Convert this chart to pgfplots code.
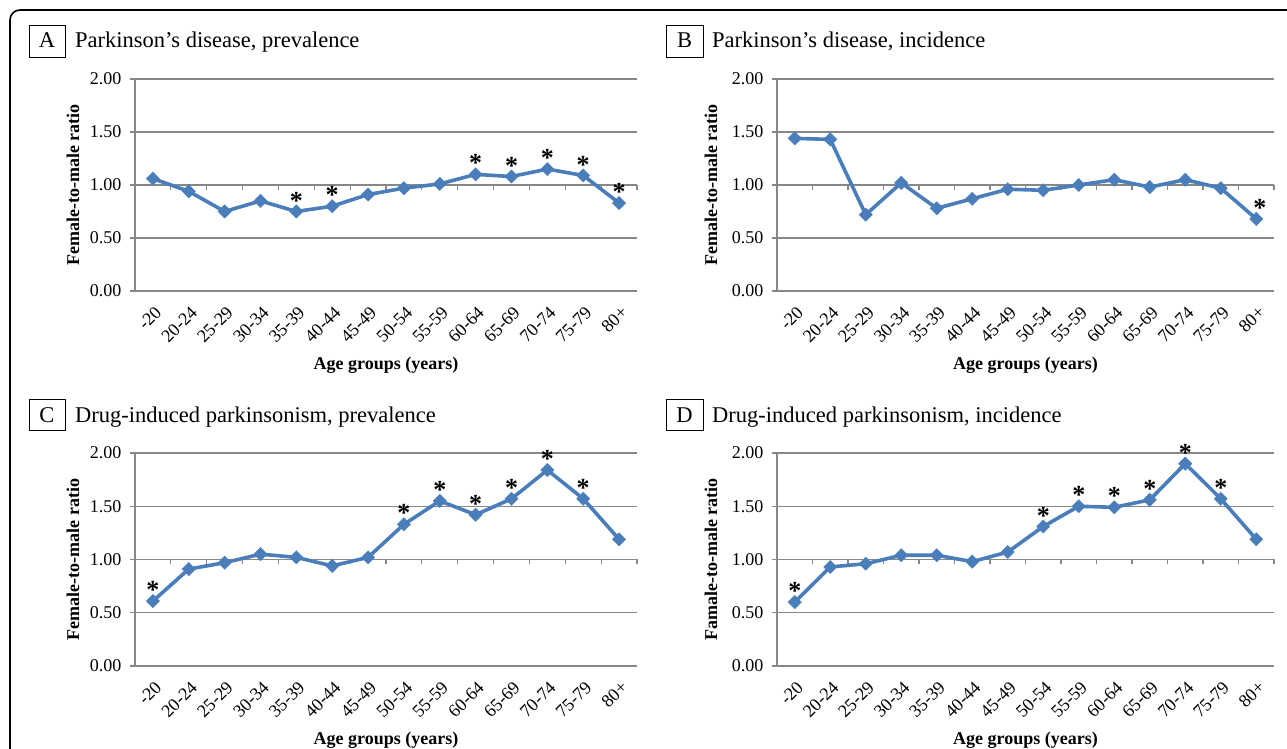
\documentclass[border=0pt]{standalone}
\usepackage{fontspec}
\setmainfont{Liberation Serif}
\usepackage{pgfplots}
\pgfplotsset{compat=1.18}
\definecolor{ser}{HTML}{4A7EBB}
\definecolor{grd}{HTML}{878787}

\pgfplotsset{
  panel/.style={
    scale only axis, anchor=south west, clip=false,
    xmin=-0.5, xmax=13.5, ymin=0, ymax=2,
    xtick={0,...,13},
    xticklabels={-20,20-24,25-29,30-34,35-39,40-44,45-49,50-54,55-59,60-64,65-69,70-74,75-79,80+},
    ytick={0,0.5,1,1.5,2},
    /pgf/number format/assume math mode=true,
    yticklabel style={/pgf/number format/fixed, /pgf/number format/fixed zerofill, /pgf/number format/precision=2,
      font=\fontsize{18}{18}\selectfont, xshift=-5pt},
    xticklabel style={xshift=1pt, yshift=-9pt, rotate=45, anchor=north east, inner sep=0pt,
      font=\fontsize{18}{18}\selectfont},
    axis lines*=left,
    axis line style={draw=grd, line width=1.2pt, -},
    ymajorgrids, major grid style={draw=grd, line width=1.2pt},
    tick align=outside, major tick length=5pt,
    ytick style={draw=grd, line width=1.2pt},
    xtick style={draw=none},
    label style={font=\bfseries\fontsize{18}{18}\selectfont},
    xlabel={Age groups (years)},
    xlabel style={at={(axis description cs:0.5,0)}, anchor=center, yshift=-74pt},
  },
  ser/.style={color=ser, line width=3.6pt, mark=square*, mark size=4.7pt,
    mark options={solid, rotate=45, line width=0.4pt, fill=ser, draw=ser}},
  star/.style={only marks, mark=none, nodes near coords={*},
    nodes near coords style={font=\bfseries\fontsize{26}{26}\selectfont, anchor=center, yshift=11pt, inner sep=0pt, text=black}},
}
\newcommand\catticks{%
  \pgfplotsinvokeforeach{0.5,1.5,...,13.5}{\draw[grd, line width=1.2pt] (axis cs:##1,1) -- ([yshift=-5pt]axis cs:##1,1);}%
}

\begin{document}
\begin{tikzpicture}
\useasboundingbox (0,0) rectangle (1287pt,749pt);
\begin{scope}
  \clip (0,0) rectangle (1287pt,749pt);
  \draw[line width=1.6pt, rounded corners=10pt] (10pt,739pt) rectangle (1330pt,-40pt);
\end{scope}

% ---------- titles
\tikzset{ttl/.style={font=\fontsize{22.5}{22.5}\selectfont, inner sep=0pt}}
\draw[line width=0.8pt] (29pt,692pt) rectangle (65pt,724pt);
\node[ttl, anchor=base] at (47pt,701pt) {A};
\node[ttl, anchor=base west] at (75pt,701pt) {Parkinson’s disease, prevalence};
\draw[line width=0.8pt] (666pt,692pt) rectangle (703pt,724pt);
\node[ttl, anchor=base] at (684.5pt,701pt) {B};
\node[ttl, anchor=base west] at (712pt,701pt) {Parkinson’s disease, incidence};
\draw[line width=0.8pt] (29pt,319pt) rectangle (65pt,350pt);
\node[ttl, anchor=base] at (47pt,326pt) {C};
\node[ttl, anchor=base west] at (75pt,326pt) {Drug-induced parkinsonism, prevalence};
\draw[line width=0.8pt] (666pt,319pt) rectangle (703pt,350pt);
\node[ttl, anchor=base] at (684.5pt,326pt) {D};
\node[ttl, anchor=base west] at (712pt,326pt) {Drug-induced parkinsonism, incidence};

% ---------- A
\begin{axis}[panel, at={(135pt,458pt)}, width=502pt, height=212pt,
  ylabel={Female-to-male ratio},
  ylabel style={at={(axis description cs:-0.1235,0.5)}, anchor=center}]
\catticks
\addplot[ser] coordinates {(0,1.06)(1,0.94)(2,0.75)(3,0.85)(4,0.75)(5,0.80)(6,0.91)(7,0.97)(8,1.01)(9,1.10)(10,1.08)(11,1.15)(12,1.09)(13,0.83)};
\addplot[star] coordinates {(4,0.75)(5,0.80)(9,1.10)(10,1.08)(11,1.15)(12,1.09)(13,0.83)};
\end{axis}

% ---------- B
\begin{axis}[panel, at={(777pt,458pt)}, width=497pt, height=212pt,
  ylabel={Female-to-male ratio},
  ylabel style={at={(axis description cs:-0.133,0.5)}, anchor=center}]
\catticks
\addplot[ser] coordinates {(0,1.44)(1,1.43)(2,0.72)(3,1.02)(4,0.78)(5,0.87)(6,0.96)(7,0.95)(8,1.00)(9,1.05)(10,0.98)(11,1.05)(12,0.97)(13,0.68)};
\addplot[star] coordinates {(13.1,0.68)};
\end{axis}

% ---------- C
\begin{axis}[panel, at={(135pt,83pt)}, width=502pt, height=213pt,
  ylabel={Female-to-male ratio},
  ylabel style={at={(axis description cs:-0.1235,0.5)}, anchor=center}]
\catticks
\addplot[ser] coordinates {(0,0.61)(1,0.91)(2,0.97)(3,1.05)(4,1.02)(5,0.94)(6,1.02)(7,1.33)(8,1.55)(9,1.42)(10,1.57)(11,1.84)(12,1.57)(13,1.19)};
\addplot[star] coordinates {(0,0.61)(7,1.33)(8,1.55)(9,1.42)(10,1.57)(11,1.84)(12,1.57)};
\end{axis}

% ---------- D
\begin{axis}[panel, at={(777pt,83pt)}, width=497pt, height=213pt,
  ylabel={Famale-to-male ratio},
  ylabel style={at={(axis description cs:-0.133,0.5)}, anchor=center}]
\catticks
\addplot[ser] coordinates {(0,0.60)(1,0.93)(2,0.96)(3,1.04)(4,1.04)(5,0.98)(6,1.07)(7,1.31)(8,1.50)(9,1.49)(10,1.56)(11,1.90)(12,1.57)(13,1.19)};
\addplot[star] coordinates {(0,0.60)(7,1.31)(8,1.50)(9,1.49)(10,1.56)(11,1.90)(12,1.57)};
\end{axis}
\end{tikzpicture}
\end{document}
